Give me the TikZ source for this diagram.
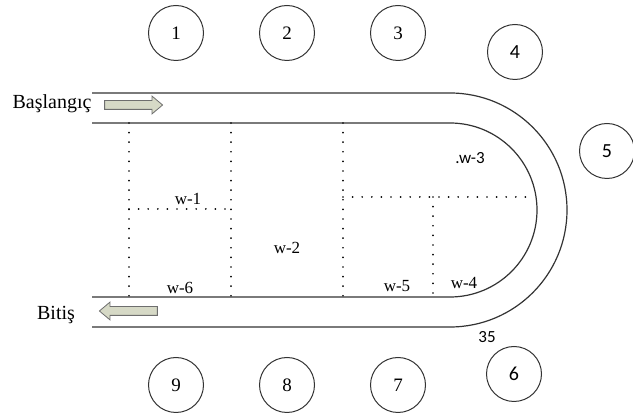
\documentclass[tikz,border=0pt]{standalone}
\usepackage{fontspec}
\setmainfont{Liberation Serif}
\newfontfamily\calfont{Carlito}
\usetikzlibrary{shapes.arrows}
\definecolor{trackgray}{HTML}{333333}
\definecolor{arrowfill}{HTML}{D6D9C6}
\definecolor{arrowline}{HTML}{6E6E6E}
\tikzstyle{station} = [circle, draw=trackgray, line width=1pt, minimum size=55pt,
                       inner sep=0pt, font=\fontsize{19}{19}\selectfont]
\tikzstyle{calstation} = [station, font=\calfont\fontsize{20}{20}\selectfont]
\tikzstyle{zone} = [inner sep=0pt, font=\fontsize{17}{17}\selectfont]
\tikzstyle{track} = [draw=trackgray, line width=1.2pt]
\tikzstyle{divider} = [black, line width=1.9pt, line cap=round, dash pattern=on 0pt off 9.6pt]
\tikzstyle{flow} = [single arrow, draw=arrowline, fill=arrowfill, line width=0.8pt,
                    minimum height=58pt, minimum width=0pt, inner xsep=0pt, inner ysep=4pt,
                    single arrow head extend=4.5pt, single arrow tip angle=80]

\begin{document}
\begin{tikzpicture}[x=1pt, y=1pt]
    \useasboundingbox (0,0) rectangle (633,420);

    % track
    \draw[track] (92,327) -- (450,327) arc[start angle=90, end angle=-90, radius=117pt] -- (92,93);
    \draw[track] (92,297) -- (450,297) arc[start angle=90, end angle=-90, radius=87pt] -- (92,123);

    % zones
    \draw[divider] (129,297) -- (129,123);
    \draw[divider] (231,297) -- (231,123);
    \draw[divider] (343,297) -- (343,123);
    \draw[divider] (129,211) -- (231,211);
    \draw[divider] (343,223) -- (534,223);
    \draw[divider] (433,223) -- (433,123);

    \node[zone] (w1) at (188,221) {w-1};
    \node[zone] (w2) at (287,172) {w-2};
    \node[zone, font=\calfont\fontsize{17}{17}\selectfont] (w3) at (470,262) {.w-3};
    \node[zone] (w4) at (464,137) {w-4};
    \node[zone] (w5) at (397,134) {w-5};
    \node[zone] (w6) at (180,132) {w-6};
    \node[zone, font=\calfont\fontsize{17}{17}\selectfont] (len) at (487,83) {35};

    % stations
    \node[station] (st1) at (176,387) {1};
    \node[station] (st2) at (287,387) {2};
    \node[station] (st3) at (398,387) {3};
    \node[calstation] (st4) at (515,368) {4};
    \node[calstation] (st5) at (607,269) {5};
    \node[calstation] (st6) at (514,46) {6};
    \node[station] (st7) at (398,35) {7};
    \node[station] (st8) at (287,35) {8};
    \node[station] (st9) at (176,35) {9};

    % in / out
    \node[inner sep=0pt, font=\fontsize{20}{20}\selectfont] (start) at (52,316) {Başlangıç};
    \node[flow] (startarrow) at (131,315) {};
    \node[inner sep=0pt, font=\fontsize{20}{20}\selectfont] (finish) at (56,105) {Bitiş};
    \node[flow, shape border rotate=180] (finisharrow) at (131,109) {};
\end{tikzpicture}
\end{document}
